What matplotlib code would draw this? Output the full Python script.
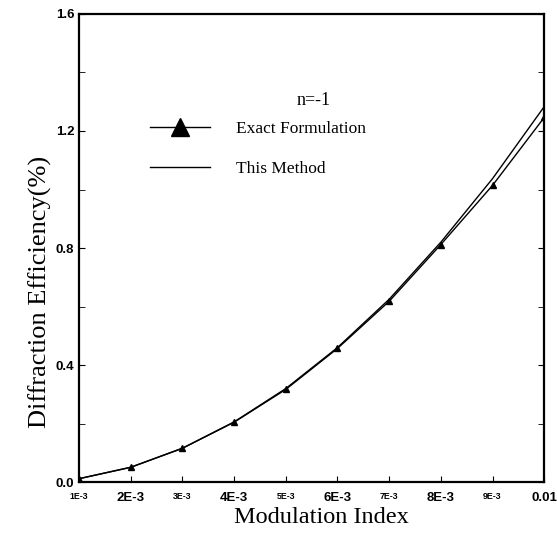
import matplotlib
matplotlib.use('Agg')
import matplotlib.pyplot as plt
from matplotlib.ticker import MultipleLocator

# modulation index values
mod_index = [0.001, 0.002, 0.003, 0.004, 0.005, 0.006, 0.007, 0.008, 0.009, 0.010]
# exact formulation (triangles)
exact = [0.012, 0.051, 0.116, 0.205, 0.317, 0.457, 0.618, 0.812, 1.014, 1.246]
# this method (plain line)
this_method = [0.012, 0.051, 0.116, 0.206, 0.320, 0.460, 0.625, 0.820, 1.037, 1.283]

xtick_labels = ['1E-3', '2E-3', '3E-3', '4E-3', '5E-3', '6E-3', '7E-3', '8E-3', '9E-3', '0.01']

fig = plt.figure(figsize=(5.57, 5.34), dpi=100)
ax = fig.add_axes([0.142, 0.097, 0.835, 0.877])

ax.plot(mod_index, this_method, color='black', lw=1.0, label='This Method')
ax.plot(mod_index, exact, color='black', lw=1.0, marker='^', ms=5,
        label='Exact Formulation')

ax.set_xlim(0.001, 0.01)
ax.set_ylim(0, 1.6)

ax.set_xticks(mod_index)
ax.set_xticklabels(xtick_labels)
for i, lab in enumerate(ax.get_xticklabels()):
    lab.set_fontfamily('Liberation Sans')
    lab.set_fontweight('bold')
    lab.set_fontsize(9.5 if i % 2 == 1 else 6.3)
ax.tick_params(axis='x', direction='in', length=4, pad=7)

ax.yaxis.set_major_locator(MultipleLocator(0.4))
ax.yaxis.set_minor_locator(MultipleLocator(0.2))
ax.tick_params(axis='y', which='both', direction='in', right=True, length=4)
ax.set_yticklabels(['%.1f' % v for v in ax.get_yticks()])
for lab in ax.get_yticklabels():
    lab.set_fontfamily('Liberation Sans')
    lab.set_fontweight('bold')
    lab.set_fontsize(9.5)

for s in ax.spines.values():
    s.set_linewidth(1.6)

ax.set_xlabel('Modulation Index', fontfamily='Liberation Serif', fontsize=17.5)
ax.set_ylabel('Diffraction Efficiency(%)', fontfamily='Liberation Serif', fontsize=19)
ax.xaxis.set_label_coords(0.52, -0.053)
ax.yaxis.set_label_coords(-0.058, 0.406)

ax.text(0.505, 0.814, 'n=-1', transform=ax.transAxes, ha='center', va='center',
        fontfamily='Liberation Serif', fontsize=13)

handles, labels = ax.get_legend_handles_labels()
ax.legend(handles[::-1], labels[::-1], loc='upper left', bbox_to_anchor=(0.153, 0.772),
          frameon=False, borderpad=0, borderaxespad=0, handlelength=3.45,
          handletextpad=1.5, labelspacing=1.38, markerscale=2.6,
          prop={'family': 'Liberation Serif', 'size': 12.5})

plt.savefig('out.png', dpi=100)
